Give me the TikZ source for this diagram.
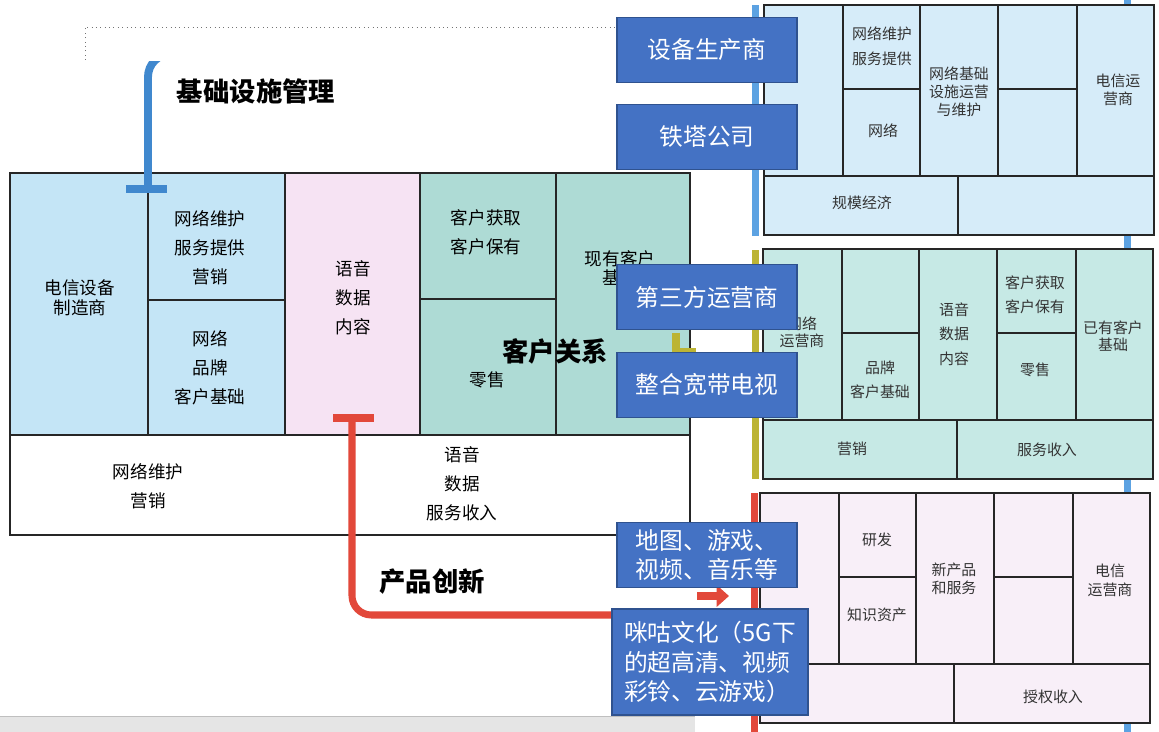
\documentclass[tikz,border=0pt]{standalone}
\usepackage{fontspec}
\setmainfont{Noto Sans CJK SC}
\usetikzlibrary{arrows.meta,positioning}

\definecolor{leftblue}{RGB}{196,229,246}
\definecolor{leftpink}{RGB}{246,227,243}
\definecolor{leftteal}{RGB}{174,219,213}
\definecolor{rightblue}{RGB}{214,236,249}
\definecolor{rightteal}{RGB}{198,233,229}
\definecolor{rightpink}{RGB}{248,239,248}
\definecolor{tagblue}{RGB}{68,114,196}
\definecolor{tagedge}{RGB}{47,82,143}
\definecolor{infrablue}{RGB}{64,136,206}
\definecolor{sideblue}{RGB}{92,162,226}
\definecolor{innored}{RGB}{226,72,58}
\definecolor{crmolive}{RGB}{188,180,52}

% one of the three canvases on the right, #1 = shift, #2 = fill
\newcommand{\rightcanvas}[2]{%
  \begin{scope}[shift={#1}]
    \fill[#2] (0,0) rectangle (390,230);
    \draw[cell] (0,0) rectangle (390,230);
    \draw[cell] (0,171) -- (390,171);
    \foreach \cx in {79,156,234,313} \draw[cell] (\cx,0) -- (\cx,171);
    \draw[cell] (79,84) -- (156,84);
    \draw[cell] (234,84) -- (313,84);
    \draw[cell] (194,171) -- (194,230);
  \end{scope}}

\begin{document}
\begin{tikzpicture}[x=0.02cm,y=-0.02cm,
  cell/.style={draw=black!85,line width=0.6pt},
  txt/.style={align=center,inner sep=0pt,font=\fontsize{10}{16.5}\selectfont},
  rtxt/.style={align=center,inner sep=0pt,text=black!80,font=\fontsize{8.5}{14}\selectfont},
  headline/.style={inner sep=0pt,font=\fontsize{15}{18}\selectfont\bfseries},
  tag/.style={draw=tagedge,fill=tagblue,text=white,line width=0.8pt,minimum width=3.6cm,minimum height=1.3cm,align=center,inner sep=2pt,font=\fontsize{13.5}{17}\selectfont},
  tbar/.style={line width=4.5pt}]
\useasboundingbox (0,0) rectangle (1159,732);
\fill[white] (0,0) rectangle (1159,732);

% page frame and bottom strip
\draw[black!55,dotted,line width=0.5pt] (85,60) -- (85,27) -- (617,27);
\fill[black!10] (0,716) rectangle (695,732);
\draw[black!25] (0,716) -- (695,716);

% lines behind the right canvases
\fill[sideblue] (1124,0) rectangle (1131,732);
\fill[sideblue] (752,5) rectangle (759,236);
\fill[crmolive] (752,250) rectangle (759,479);
\fill[innored] (751,493) rectangle (758,732);

% right canvases
\rightcanvas{(764,5)}{rightblue}
\rightcanvas{(763,249)}{rightteal}
\rightcanvas{(760,493)}{rightpink}

\node[rtxt] (r1svc) at (882,46) {网络维护\\服务提供};
\node[rtxt] (r1net) at (883,131) {网络};
\node[rtxt,font=\fontsize{8.5}{10.3}\selectfont] (r1ops) at (959,92) {网络基础\\设施运营\\与维护};
\node[rtxt,font=\fontsize{8.5}{10.3}\selectfont] (r1tel) at (1118,90) {电信运\\营商};
\node[rtxt] (r1scale) at (862,203) {规模经济};

\node[rtxt,font=\fontsize{8.5}{9.8}\selectfont] (r2net) at (802,332) {网络\\运营商};
\node[rtxt] (r2brand) at (880,380) {品牌\\客户基础};
\node[rtxt] (r2voice) at (954,334) {语音\\数据\\内容};
\node[rtxt] (r2acq) at (1035,295) {客户获取\\客户保有};
\node[rtxt] (r2retail) at (1035,370) {零售};
\node[rtxt,font=\fontsize{8.5}{9.8}\selectfont] (r2base) at (1113,336) {已有客户\\基础};
\node[rtxt] (r2mkt) at (852,449) {营销};
\node[rtxt] (r2rev) at (1047,450) {服务收入};

\node[rtxt] (r3rd) at (877,540) {研发};
\node[rtxt] (r3ip) at (877,615) {知识资产};
\node[rtxt,font=\fontsize{8.5}{10.3}\selectfont] (r3new) at (954,579) {新产品\\和服务};
\node[rtxt,font=\fontsize{8.5}{10.8}\selectfont] (r3tel) at (1110,580) {电信\\运营商};
\node[rtxt] (r3lic) at (1053,697) {授权收入};

% left canvas
\fill[leftblue] (10,173) rectangle (285,435);
\fill[leftpink] (285,173) rectangle (420,435);
\fill[leftteal] (420,173) rectangle (690,435);
\draw[cell] (10,173) rectangle (690,535);
\draw[cell] (10,435) -- (690,435);
\foreach \cx in {148,285,420,556} \draw[cell] (\cx,173) -- (\cx,435);
\draw[cell] (148,300) -- (285,300);
\draw[cell] (420,299) -- (556,299);
\draw[cell] (354,435) -- (354,535);

\node[txt,font=\fontsize{10}{11.4}\selectfont] (mfr) at (80,298) {电信设备\\制造商};
\node[txt] (netsvc) at (210,248) {网络维护\\服务提供\\营销};
\node[txt] (netbrand) at (210,368) {网络\\品牌\\客户基础};
\node[txt] (voice) at (353,298) {语音\\数据\\内容};
\node[txt] (acquire) at (486,232) {客户获取\\客户保有};
\node[txt] (retail) at (487,380) {零售};
\node[txt,font=\fontsize{10}{10.5}\selectfont] (custbase) at (620,268) {现有客户\\基础};
\node[txt] (netmkt) at (148,486) {网络维护\\营销};
\node[txt] (voicerev) at (462,484) {语音\\数据\\服务收入};

% the three management lines
\coordinate (infraFoot) at (148,189);
\coordinate (infraBend) at (148,54);
\coordinate (infraEnd) at (200,54);
\begin{scope}
  \clip (0,62) rectangle (700,732);
  \draw[infrablue,tbar,rounded corners=13pt] (infraFoot) -- (infraBend) -- (infraEnd);
\end{scope}
\draw[infrablue,line width=5pt] (126,189) -- (167,189);

\coordinate (innoFoot) at (352,418);
\coordinate (innoBend) at (352,615);
\coordinate (innoEnd) at (612,615);
\draw[innored,line width=4pt,rounded corners=11pt] (innoFoot) -- (innoBend) -- (innoEnd);
\draw[innored,line width=5pt] (333,418) -- (374,418);
\coordinate (arrowFrom) at (697,596);
\coordinate (arrowTo) at (729,596);
\draw[innored,line width=4pt,-{Triangle[length=7pt,width=12pt]}] (arrowFrom) -- (arrowTo);

\coordinate (crmBar) at (676,351);
\coordinate (crmEnd) at (696,351);
\draw[crmolive,line width=3.5pt] (crmBar) -- (crmEnd);
\draw[crmolive,line width=4.5pt] (676,333) -- (676,369);

\node[headline] (infra) at (256,91) {基础设施管理};
\node[headline] (innov) at (432,582) {产品创新};
\node[headline] (crm) at (555,351) {客户关系};

% overlaid labels
\node[tag] (tagmaker) at (707,50) {设备生产商};
\node[tag] (tagtower) at (707,137) {铁塔公司};
\node[tag] (tagthird) at (707,297) {第三方运营商};
\node[tag] (tagtv) at (707,385) {整合宽带电视};
\node[tag] (tagmedia) at (707,555) {地图、游戏、\\视频、音乐等};
\node[tag,minimum width=3.92cm,minimum height=2.12cm,align=left] (tagmigu) at (710,662) {咪咕文化（5G下\\的超高清、视频\\彩铃、云游戏）};
\end{tikzpicture}
\end{document}
